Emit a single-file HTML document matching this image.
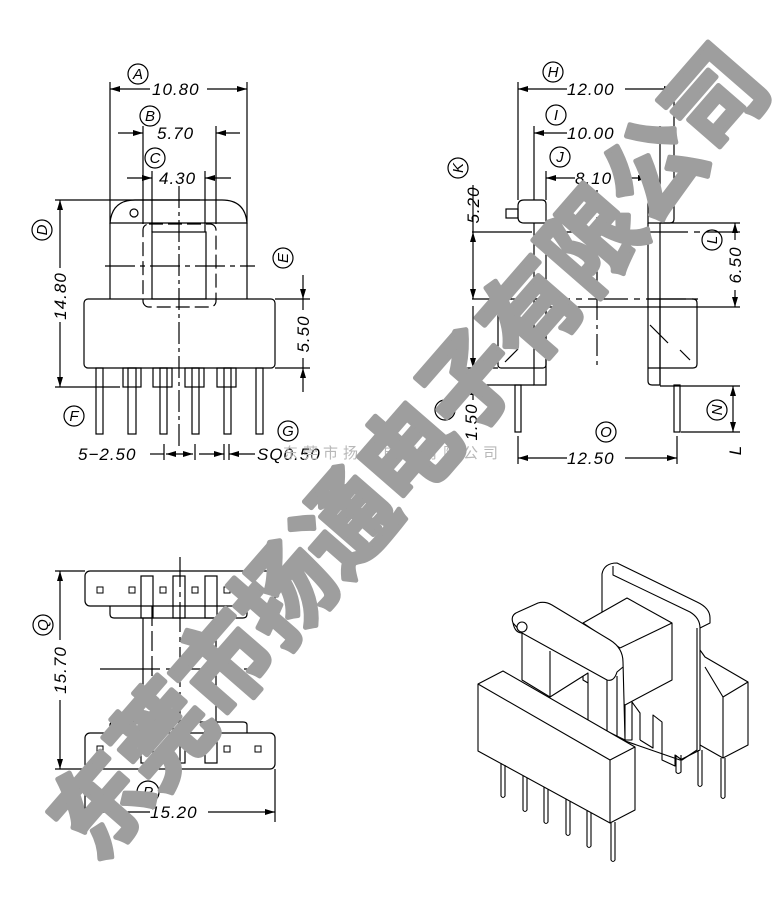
<!DOCTYPE html>
<html><head><meta charset="utf-8"><style>
html,body{margin:0;padding:0;background:#fff;}
svg{display:block;}
text{font-family:"Liberation Sans",sans-serif;font-style:italic;}
</style></head><body>
<svg width="780" height="897" viewBox="0 0 780 897" xmlns="http://www.w3.org/2000/svg">
<defs>
<marker id="a" viewBox="0 0 10 6" refX="10" refY="3" markerWidth="10" markerHeight="6" orient="auto-start-reverse" markerUnits="userSpaceOnUse"><path d="M0,0 L10,3 L0,6 z" fill="#000"/></marker>
</defs>
<g fill="none" stroke="#000" stroke-width="1.2">
<!-- ===== TOP LEFT VIEW ===== -->
<line x1="110" y1="82" x2="110" y2="299"/><line x1="247" y1="82" x2="247" y2="299"/>
<line x1="110" y1="89" x2="150" y2="89" marker-start="url(#a)"/><line x1="207" y1="89" x2="247" y2="89" marker-end="url(#a)"/>
<line x1="143" y1="126" x2="143" y2="224"/><line x1="216" y1="126" x2="216" y2="224"/>
<line x1="118" y1="133" x2="143" y2="133" marker-end="url(#a)"/><line x1="216" y1="133" x2="240" y2="133" marker-start="url(#a)"/>
<line x1="152" y1="171" x2="152" y2="232"/><line x1="205" y1="171" x2="205" y2="232"/>
<line x1="127" y1="178" x2="152" y2="178" marker-end="url(#a)"/><line x1="205" y1="178" x2="231" y2="178" marker-start="url(#a)"/>
<path d="M110,223 Q112,200 135,200 L222,200 Q245,200 247,223 Z"/>
<circle cx="134" cy="213" r="4"/>
<rect x="143" y="224" width="73" height="83" rx="6" stroke-dasharray="14,5"/>
<rect x="152" y="232" width="54" height="67"/>
<line x1="179" y1="186" x2="179" y2="450" stroke-dasharray="22,4,4,4"/>
<line x1="105" y1="266" x2="255" y2="266" stroke-dasharray="30,5,5,5"/>
<rect x="84" y="299" width="191" height="69" rx="4"/>
<line x1="55" y1="200" x2="200" y2="200"/><line x1="55" y1="387" x2="120" y2="387"/>
<line x1="60" y1="200" x2="60" y2="268" marker-start="url(#a)"/><line x1="60" y1="322" x2="60" y2="387" marker-end="url(#a)"/>
<line x1="275" y1="299" x2="310" y2="299"/><line x1="275" y1="368" x2="310" y2="368"/>
<line x1="303" y1="275" x2="303" y2="299" marker-end="url(#a)"/><line x1="303" y1="368" x2="303" y2="392" marker-start="url(#a)"/>
<line x1="303" y1="299" x2="303" y2="310"/><line x1="303" y1="358" x2="303" y2="368"/>
<rect x="96" y="368" width="7" height="66"/>
<rect x="128" y="368" width="8" height="66"/><rect x="123" y="368" width="18" height="19"/>
<rect x="160" y="368" width="7" height="66"/><rect x="153" y="368" width="19" height="19"/>
<rect x="192" y="368" width="7" height="66"/><rect x="185" y="368" width="19" height="19"/>
<rect x="224" y="368" width="7" height="66"/><rect x="217" y="368" width="19" height="19"/>
<rect x="256" y="368" width="7" height="66"/>
<line x1="164" y1="444" x2="164" y2="460"/><line x1="195" y1="444" x2="195" y2="460"/>
<line x1="224" y1="444" x2="224" y2="460"/><line x1="229" y1="444" x2="229" y2="460"/>
<line x1="150" y1="454" x2="164" y2="454"/>
<line x1="166" y1="454" x2="193" y2="454" marker-start="url(#a)" marker-end="url(#a)"/>
<line x1="199" y1="454" x2="224" y2="454" marker-end="url(#a)"/>
<line x1="229" y1="454" x2="255" y2="454" marker-start="url(#a)"/>
<circle cx="138" cy="74" r="10"/><circle cx="150" cy="116" r="10"/><circle cx="155" cy="158" r="10"/>
<circle cx="42" cy="230" r="10"/><circle cx="283" cy="258" r="10"/><circle cx="74" cy="416" r="10"/><circle cx="288" cy="431" r="10"/>

<!-- ===== TOP RIGHT VIEW ===== -->
<line x1="518" y1="82" x2="518" y2="200"/><line x1="674" y1="82" x2="674" y2="200"/>
<line x1="518" y1="89" x2="567" y2="89" marker-start="url(#a)"/><line x1="625" y1="89" x2="674" y2="89" marker-end="url(#a)"/>
<line x1="534" y1="126" x2="534" y2="200"/><line x1="660" y1="126" x2="660" y2="200"/>
<line x1="534" y1="133" x2="567" y2="133" marker-start="url(#a)"/><line x1="625" y1="133" x2="660" y2="133" marker-end="url(#a)"/>
<line x1="546" y1="171" x2="546" y2="200"/><line x1="648" y1="171" x2="648" y2="200"/>
<line x1="546" y1="178" x2="575" y2="178" marker-start="url(#a)"/><line x1="615" y1="178" x2="648" y2="178" marker-end="url(#a)"/>
<path d="M524,200 L542,200 Q546,200 546,204 L546,223 L534,223 L524,223 Q518,223 518,217 L518,206 Q518,200 524,200 Z"/>
<rect x="506" y="209" width="12" height="9"/>
<path d="M534,223 L534,385 L546,385 L546,223"/>
<rect x="498" y="299" width="48" height="69" rx="3"/>
<path d="M656,200 L670,200 Q674,200 674,204 L674,219 Q674,223 670,223 L660,223 L648,223 L648,204 Q648,200 652,200 Z"/>
<path d="M648,223 L648,381 Q648,385 652,385 L660,385 L660,223"/>
<path d="M648,299 L693,299 Q697,299 697,303 L697,364 Q697,368 693,368 L648,368"/>
<line x1="660" y1="299" x2="660" y2="385"/>
<line x1="472" y1="232" x2="740" y2="232" stroke-dasharray="60,6,6,6"/>
<line x1="472" y1="299" x2="698" y2="299" stroke-dasharray="40,6,6,6"/>
<line x1="546" y1="307" x2="740" y2="307"/>
<line x1="597" y1="190" x2="597" y2="370" stroke-dasharray="22,5,4,5"/>
<line x1="505" y1="362" x2="518" y2="349"/>
<line x1="650" y1="325" x2="668" y2="343"/><line x1="680" y1="350" x2="690" y2="360"/>
<line x1="473" y1="185" x2="473" y2="232"/>
<line x1="473" y1="232" x2="473" y2="299" marker-start="url(#a)" marker-end="url(#a)"/>
<line x1="473" y1="306" x2="473" y2="368" marker-end="url(#a)"/>
<line x1="473" y1="385" x2="473" y2="400" marker-start="url(#a)"/>
<line x1="465" y1="368" x2="498" y2="368"/><line x1="465" y1="385" x2="534" y2="385"/>
<line x1="735" y1="223" x2="735" y2="240" marker-start="url(#a)"/><line x1="735" y1="290" x2="735" y2="307" marker-end="url(#a)"/>
<line x1="660" y1="223" x2="740" y2="223"/>
<line x1="660" y1="386" x2="740" y2="386"/><line x1="681" y1="432" x2="740" y2="432"/>
<line x1="733" y1="386" x2="733" y2="432" marker-start="url(#a)" marker-end="url(#a)"/>
<rect x="515" y="385" width="6" height="47"/><rect x="674" y="385" width="6" height="47"/>
<line x1="518" y1="436" x2="518" y2="464"/><line x1="677" y1="436" x2="677" y2="464"/>
<line x1="518" y1="458" x2="567" y2="458" marker-start="url(#a)"/><line x1="625" y1="458" x2="677" y2="458" marker-end="url(#a)"/>
<circle cx="553" cy="72" r="10"/><circle cx="556" cy="115" r="10"/><circle cx="560" cy="157" r="10"/>
<circle cx="458" cy="168" r="10"/><circle cx="712" cy="240" r="10"/><circle cx="445" cy="410" r="10"/>
<circle cx="717" cy="410" r="10"/><circle cx="606" cy="432" r="10"/>

<!-- ===== BOTTOM LEFT VIEW ===== -->
<rect x="85" y="571" width="190" height="35" rx="5"/>
<path d="M110,606 L110,614 Q110,618 114,618 L243,618 Q247,618 247,614 L247,606"/>
<rect x="141" y="576" width="12" height="42"/><rect x="173" y="576" width="12" height="42"/><rect x="205" y="576" width="12" height="42"/>
<path d="M110,733 L110,725 Q110,722 114,722 L243,722 Q247,722 247,725 L247,733"/>
<rect x="85" y="733" width="190" height="36" rx="5"/>
<rect x="141" y="722" width="12" height="41"/><rect x="173" y="722" width="12" height="41"/><rect x="205" y="722" width="12" height="41"/>
<line x1="143" y1="618" x2="143" y2="722"/><line x1="216" y1="618" x2="216" y2="722"/>
<line x1="152" y1="606" x2="152" y2="722" stroke-dasharray="20,5"/>
<line x1="180" y1="557" x2="180" y2="782" stroke-dasharray="30,5,5,5"/>
<line x1="100" y1="669" x2="260" y2="669" stroke-dasharray="60,6,6,6"/>
<g stroke-width="1">
<rect x="97" y="587" width="6" height="6"/><rect x="129" y="587" width="6" height="6"/><rect x="160" y="587" width="6" height="6"/><rect x="192" y="587" width="6" height="6"/><rect x="224" y="587" width="6" height="6"/><rect x="255" y="587" width="6" height="6"/>
<rect x="97" y="746" width="6" height="6"/><rect x="129" y="746" width="6" height="6"/><rect x="160" y="746" width="6" height="6"/><rect x="192" y="746" width="6" height="6"/><rect x="224" y="746" width="6" height="6"/><rect x="255" y="746" width="6" height="6"/>
</g>
<line x1="55" y1="571" x2="85" y2="571"/><line x1="55" y1="769" x2="85" y2="769"/>
<line x1="60" y1="571" x2="60" y2="640" marker-start="url(#a)"/><line x1="60" y1="700" x2="60" y2="769" marker-end="url(#a)"/>
<line x1="85" y1="769" x2="85" y2="818"/><line x1="275" y1="769" x2="275" y2="822"/>
<line x1="85" y1="812" x2="150" y2="812" marker-start="url(#a)"/><line x1="208" y1="812" x2="275" y2="812" marker-end="url(#a)"/>
<circle cx="43" cy="625" r="10"/><circle cx="148" cy="792" r="11"/>

<!-- ===== 3D VIEW ===== -->
<g stroke-width="1.1" stroke-linejoin="round">
<!-- right block -->
<path d="M700,650 L705,657 L748,682 L748,745 L723,758 L700,745 Z" fill="#fff"/>
<path d="M705,667 L723,697 L748,682"/><line x1="723" y1="697" x2="723" y2="758"/>
<!-- back flange -->
<path d="M602,733 L602,574 Q604,563 617,563 L697,602 Q710,608 710,618 L710,623 L700,628 L700,750 L680,760 L602,733 Z" fill="#fff"/>
<path d="M613,566 L613,575 L690,612 Q700,618 700,628"/>
<line x1="697" y1="628" x2="697" y2="750"/>
<!-- back pins -->
<path d="M698,750 L698,785 Q700,788 702,785 L702,750"/>
<path d="M721,758 L721,797 Q723,800 725,797 L725,758"/>
<path d="M676,755 L676,772 Q678,775 681,772 L681,755"/>
<!-- slots -->
<path d="M625,700 L625,740 L632,740 L632,702 L640,713 L640,740"/>
<path d="M640,740 L653,748 L653,715 L662,722 L662,760 L675,766 L675,755 L682,760 L697,750"/>
<!-- core block -->
<path d="M583,623 L627,598 L672,623 L672,680 L625,705 L583,680 Z" fill="#fff"/>
<line x1="583" y1="623" x2="620" y2="648"/><line x1="620" y1="648" x2="672" y2="623"/>
<!-- clip -->
<path d="M513,623 Q510,615 518,612 L538,603 Q545,601 552,605 L610,640 Q623,648 623,662 L625,740 L588,722 L588,673 L550,697 L522,680 L522,633 Z" fill="#fff"/>
<path d="M513,623 Q515,633 522,633 L607,680 Q614,682 617,672 L623,667"/>
<circle cx="522" cy="627" r="5" fill="#fff"/>
<line x1="550" y1="651" x2="550" y2="697"/>
<line x1="607" y1="680" x2="607" y2="731"/><line x1="617" y1="676" x2="617" y2="736"/>
<!-- front block -->
<path d="M478,684 L503,671 L635,747 L635,810 L610,823 L478,751 Z" fill="#fff"/>
<path d="M478,684 L610,760 L635,747"/><line x1="610" y1="760" x2="610" y2="823"/>
<path d="M501,763 L501,796 Q503,799 505,796 L505,765"/>
<path d="M523,776 L523,810 Q525,813 527,810 L527,778"/>
<path d="M544,787 L544,822 Q546,825 548,822 L548,789"/>
<path d="M566,799 L566,834 Q568,837 570,834 L570,801"/>
<path d="M587,811 L587,846 Q589,849 591,846 L591,813"/>
<path d="M611,823 L611,860 Q613,863 615,860 L615,822"/>
</g>
</g>

<!-- TEXT -->
<g font-size="17" fill="#000" letter-spacing="1">
<text x="152" y="95">10.80</text>
<text x="157" y="139">5.70</text>
<text x="159" y="184">4.30</text>
<text transform="translate(66,296) rotate(-90)" text-anchor="middle">14.80</text>
<text transform="translate(309,334) rotate(-90)" text-anchor="middle">5.50</text>
<text x="78" y="460">5−2.50</text>
<text x="257" y="460">SQ0.50</text>
<text x="567" y="95">12.00</text>
<text x="567" y="139">10.00</text>
<text x="575" y="184">8.10</text>
<text transform="translate(479,205) rotate(-90)" text-anchor="middle">5.20</text>
<text transform="translate(741,265) rotate(-90)" text-anchor="middle">6.50</text>
<text transform="translate(477,422) rotate(-90)" text-anchor="middle">1.50</text>
<text transform="translate(741,450) rotate(-90)" text-anchor="middle">L</text>
<text x="567" y="464">12.50</text>
<text transform="translate(66,670) rotate(-90)" text-anchor="middle">15.70</text>
<text x="150" y="818">15.20</text>
</g>
<g font-size="15" fill="#000" text-anchor="middle" style="font-family:'Liberation Serif',serif">
<text x="138" y="79">A</text><text x="150" y="121">B</text><text x="155" y="163">C</text>
<text transform="translate(47,230) rotate(-90)">D</text><text transform="translate(288,258) rotate(-90)">E</text>
<text x="74" y="421">F</text><text x="288" y="436">G</text>
<text x="553" y="77">H</text><text x="556" y="120">I</text><text x="560" y="162">J</text>
<text transform="translate(463,168) rotate(-90)">K</text><text transform="translate(717,240) rotate(-90)">L</text>
<text transform="translate(450,410) rotate(-90)">M</text><text transform="translate(722,410) rotate(-90)">N</text>
<text x="606" y="437">O</text><text transform="translate(48,625) rotate(-90)">Q</text>
<text x="148" y="797">P</text>
</g>

<!-- watermark -->
<text x="283" y="458" font-size="15" fill="#b8b8b8" letter-spacing="5" style="font-style:normal;font-family:'Liberation Sans','Noto Sans CJK SC',sans-serif">东莞市扬通电子有限公司</text>
<text transform="translate(72,842) rotate(-49)" font-size="100" font-weight="bold" fill="#9e9e9e" stroke="#9e9e9e" stroke-width="5" stroke-linejoin="round" dominant-baseline="central" textLength="1030" lengthAdjust="spacingAndGlyphs" style="font-style:normal;font-family:'Liberation Sans','Noto Sans CJK SC',sans-serif">东莞市扬通电子有限公司</text>
</svg>
</body></html>
